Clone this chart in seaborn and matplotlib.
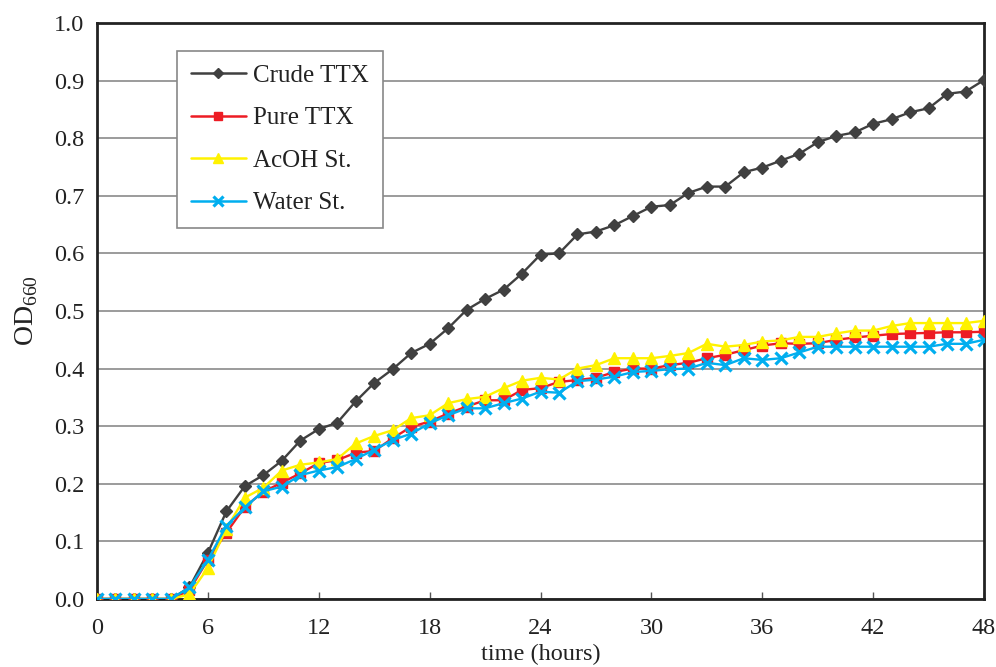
import numpy as np
import pandas as pd
import matplotlib
matplotlib.use("Agg")
import matplotlib.pyplot as plt
import seaborn as sns
from matplotlib.lines import Line2D

hours = list(range(0, 49))

crude_ttx = [0, 0, 0, 0, 0, 0.020, 0.080, 0.152, 0.196, 0.215, 0.240, 0.275, 0.295, 0.306,
             0.343, 0.375, 0.399, 0.427, 0.443, 0.470, 0.502, 0.521, 0.537, 0.565, 0.598,
             0.600, 0.633, 0.638, 0.649, 0.665, 0.681, 0.684, 0.705, 0.716, 0.716, 0.741,
             0.749, 0.761, 0.773, 0.793, 0.804, 0.810, 0.825, 0.833, 0.845, 0.852, 0.877,
             0.881, 0.901]
pure_ttx = [0, 0, 0, 0, 0, 0.015, 0.068, 0.115, 0.160, 0.186, 0.202, 0.218, 0.236, 0.241,
            0.254, 0.257, 0.279, 0.299, 0.308, 0.322, 0.334, 0.345, 0.345, 0.363, 0.366,
            0.377, 0.380, 0.384, 0.394, 0.400, 0.400, 0.406, 0.410, 0.418, 0.424, 0.432,
            0.440, 0.444, 0.443, 0.444, 0.450, 0.454, 0.457, 0.460, 0.461, 0.462, 0.463,
            0.463, 0.464]
acoh_st = [0, 0, 0, 0, 0, 0.008, 0.054, 0.122, 0.176, 0.193, 0.223, 0.233, 0.237, 0.243,
           0.270, 0.283, 0.293, 0.314, 0.319, 0.340, 0.347, 0.351, 0.366, 0.379, 0.384,
           0.381, 0.400, 0.406, 0.418, 0.418, 0.418, 0.422, 0.427, 0.443, 0.438, 0.441,
           0.447, 0.449, 0.455, 0.455, 0.461, 0.466, 0.466, 0.474, 0.479, 0.479, 0.479,
           0.479, 0.483]
water_st = [0, 0, 0, 0, 0, 0.020, 0.068, 0.127, 0.159, 0.187, 0.195, 0.215, 0.223, 0.229,
            0.243, 0.259, 0.276, 0.287, 0.305, 0.319, 0.331, 0.331, 0.340, 0.348, 0.360,
            0.358, 0.378, 0.381, 0.386, 0.394, 0.396, 0.399, 0.400, 0.410, 0.406, 0.418,
            0.415, 0.418, 0.428, 0.438, 0.438, 0.438, 0.438, 0.438, 0.438, 0.438, 0.443,
            0.443, 0.450]

series_names = ["Crude TTX", "Pure TTX", "AcOH St.", "Water St."]
series_values = [crude_ttx, pure_ttx, acoh_st, water_st]
colors = ["#404040", "#ED1C24", "#FFF200", "#00AEEF"]
markers = ["D", "s", "^", "x"]
msizes = [6.5, 6.5, 8, 8.5]
mews = [1, 1, 1, 2.3]

y_ticks = [round(0.1 * i, 1) for i in range(11)]
x_ticks = list(range(0, 49, 6))

df = pd.DataFrame({
    "time": hours * len(series_names),
    "OD": sum(series_values, []),
    "series": sum([[n] * len(hours) for n in series_names], []),
})

sns.set_theme(style="white")
plt.rcParams["font.family"] = ["Liberation Serif", "DejaVu Serif"]
plt.rcParams["mathtext.fontset"] = "custom"
plt.rcParams["mathtext.rm"] = "Liberation Serif"

fig = plt.figure(figsize=(9.96, 6.67), dpi=100)
ax = fig.add_axes([0.0974, 0.102, 0.8906, 0.8635])

for name, col, mk, ms, mew in zip(series_names, colors, markers, msizes, mews):
    sub = df[df["series"] == name]
    sns.lineplot(data=sub, x="time", y="OD", ax=ax, color=col, marker=mk,
                 markersize=ms, markeredgecolor=col, markerfacecolor=col,
                 markeredgewidth=mew, linewidth=1.7, legend=False, zorder=3)

ax.set_xlim(0, 48)
ax.set_ylim(0, 1.0)
ax.set_xticks(x_ticks)
ax.set_yticks(y_ticks)
ax.set_yticklabels([f"{v:.1f}" for v in y_ticks])
ax.yaxis.grid(True, color="#8a8a8a", linewidth=1.2)
ax.xaxis.grid(False)
ax.set_axisbelow(True)
for s in ax.spines.values():
    s.set_visible(True)
    s.set_color("#222222")
    s.set_linewidth(2)
ax.tick_params(axis="x", direction="in", length=5, width=1, color="#555555",
               labelsize=17.5, pad=14, bottom=True)
ax.tick_params(axis="y", length=0, labelsize=17.5, pad=9)
for lab in ax.get_xticklabels() + ax.get_yticklabels():
    lab.set_color("#222222")

ax.set_xlabel("time (hours)", fontsize=17.5, color="#222222", labelpad=3)
ax.set_ylabel(r"OD$_{660}$", fontsize=20, color="#222222", labelpad=10)

handles = [Line2D([0], [0], color=c, marker=m, markersize=ms * 0.85, markeredgecolor=c,
                  markerfacecolor=c, markeredgewidth=mw, linewidth=1.8)
           for c, m, ms, mw in zip(colors, markers, msizes, mews)]
leg = ax.legend(handles, series_names, loc="upper left", bbox_to_anchor=(0.09, 0.952),
                fontsize=18, frameon=True, fancybox=False, framealpha=1,
                edgecolor="#888888", handlelength=2.2, labelspacing=0.8,
                borderpad=0.55, handletextpad=0.3, borderaxespad=0)
leg.get_frame().set_linewidth(1.2)
for t in leg.get_texts():
    t.set_color("#222222")

fig.savefig("out.png", dpi=100)
